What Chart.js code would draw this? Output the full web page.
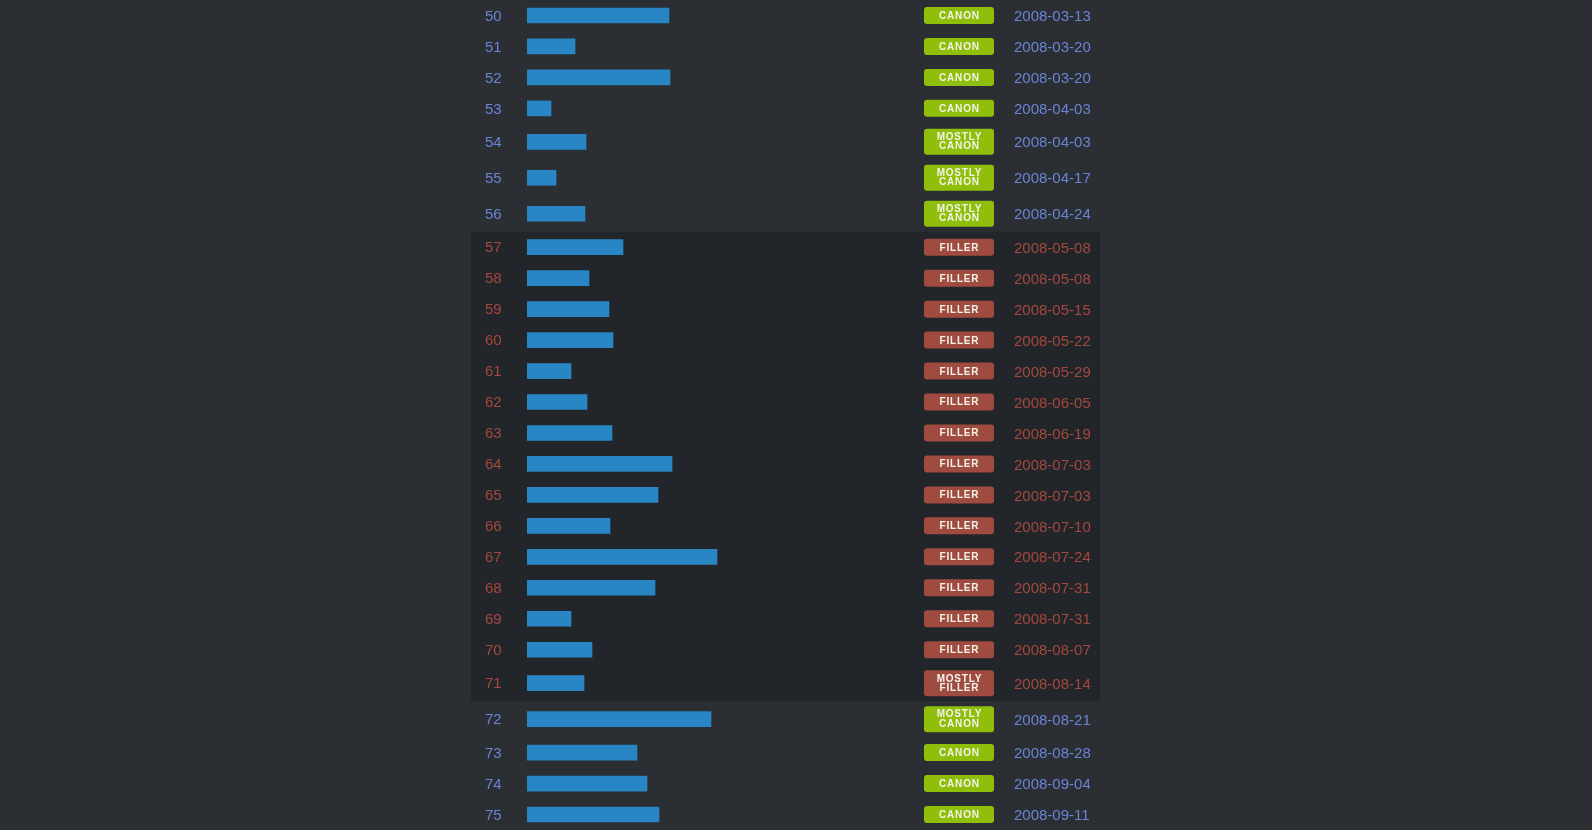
<!DOCTYPE html>
<html>
<head>
<meta charset="utf-8">
<script src="https://cdn.jsdelivr.net/npm/chart.js@4/dist/chart.umd.min.js"></script>
<style>
  html, body { margin: 0; padding: 0; background: #2b2e33; overflow: hidden; }
  #wrap { width: 1592px; height: 830px; position: relative; }
</style>
</head>
<body>
<div id="wrap"><canvas id="c"></canvas></div>
<script>
// ---- data ----
const episodes = [50,51,52,53,54,55,56,57,58,59,60,61,62,63,64,65,66,67,68,69,70,71,72,73,74,75];
const barValues = [142,48,143,24,59,29,58,96,62,82,86,44,60,85,145,131,83,190,128,44,65,57,184,110,120,132];
const statuses = [
  'CANON','CANON','CANON','CANON','MOSTLY CANON','MOSTLY CANON','MOSTLY CANON',
  'FILLER','FILLER','FILLER','FILLER','FILLER','FILLER','FILLER','FILLER','FILLER','FILLER','FILLER','FILLER','FILLER','FILLER',
  'MOSTLY FILLER','MOSTLY CANON','CANON','CANON','CANON'
];
const airDates = [
  '2008-03-13','2008-03-20','2008-03-20','2008-04-03','2008-04-03','2008-04-17','2008-04-24',
  '2008-05-08','2008-05-08','2008-05-15','2008-05-22','2008-05-29','2008-06-05','2008-06-19',
  '2008-07-03','2008-07-03','2008-07-10','2008-07-24','2008-07-31','2008-07-31','2008-08-07',
  '2008-08-14','2008-08-21','2008-08-28','2008-09-04','2008-09-11'
];
const xMax = 573;

// ---- style / layout ----
const ROW_SINGLE = 31, ROW_DOUBLE = 36;
const COLORS = {
  bar: '#2986c4', canonText: '#6a85d6', fillerText: '#a5493e',
  canonBadge: '#8fbe0b', fillerBadge: '#a04b40', badgeText: '#f3f3ea',
  fillerBg: '#222529'
};
const isFiller = i => statuses[i].indexOf('FILLER') >= 0;
const isDouble = i => statuses[i].indexOf('MOSTLY') === 0;

// row bands derived from the badge type
const rowTop = [], rowBottom = [], rowCenter = [];
let acc = 0;
statuses.forEach((s, i) => {
  const h = isDouble(i) ? ROW_DOUBLE : ROW_SINGLE;
  rowTop.push(acc); rowCenter.push(acc + h / 2); acc += h; rowBottom.push(acc);
});
const yTotal = acc;

const FONT = '"Liberation Sans", Arial, Helvetica, sans-serif';

const decor = {
  id: 'decor',
  beforeDraw(chart) {
    const ctx = chart.ctx, y = chart.scales.y;
    const first = statuses.findIndex((s, i) => isFiller(i));
    let last = first;
    while (last + 1 < statuses.length && isFiller(last + 1)) last++;
    const t = y.getPixelForValue(rowTop[first]), b = y.getPixelForValue(rowBottom[last]);
    ctx.save();
    ctx.fillStyle = COLORS.fillerBg;
    ctx.fillRect(471, t, 1100 - 471, b - t);
    ctx.restore();
  },
  afterDatasetsDraw(chart) {
    const ctx = chart.ctx, y = chart.scales.y;
    ctx.save();
    statuses.forEach((s, i) => {
      const cy = y.getPixelForValue(rowCenter[i]);
      const filler = isFiller(i), dbl = isDouble(i);
      const h = dbl ? 26 : 17, w = 70, bx = 924, by = cy - h / 2;
      ctx.fillStyle = filler ? COLORS.fillerBadge : COLORS.canonBadge;
      ctx.beginPath();
      ctx.roundRect(bx, by, w, h, 3);
      ctx.fill();
      ctx.fillStyle = COLORS.badgeText;
      ctx.font = 'bold 10px ' + FONT;
      ctx.letterSpacing = '0.8px';
      ctx.textAlign = 'center';
      ctx.textBaseline = 'middle';
      const tx = bx + w / 2 + 0.4;
      if (dbl) {
        const parts = s.split(' ');
        ctx.fillText(parts[0], tx, cy - 4.4);
        ctx.fillText(parts[1], tx, cy + 4.9);
      } else {
        ctx.fillText(s, tx, cy + 0.7);
      }
      ctx.letterSpacing = '0px';
      ctx.font = '15px ' + FONT;
      ctx.textAlign = 'left';
      ctx.fillStyle = filler ? COLORS.fillerText : COLORS.canonText;
      ctx.fillText(airDates[i], 1014, cy + 1.5);
    });
    ctx.restore();
  }
};

new Chart(document.getElementById('c'), {
  type: 'bar',
  data: {
    datasets: [{
      data: barValues.map((v, i) => ({ x: v, y: rowCenter[i] })),
      backgroundColor: COLORS.bar,
      borderWidth: 0,
      barThickness: 15
    }]
  },
  options: {
    indexAxis: 'y',
    responsive: true,
    maintainAspectRatio: false,
    animation: false,
    layout: { padding: { left: 485, right: 1592 - 1100, top: 0, bottom: 0 } },
    plugins: { legend: { display: false }, tooltip: { enabled: false } },
    scales: {
      x: { type: 'linear', display: false, min: 0, max: xMax, offset: false },
      y: {
        type: 'linear', reverse: true, min: 0, max: yTotal, offset: false,
        grid: { display: false, drawTicks: false, offset: false },
        border: { display: false },
        afterBuildTicks(scale) { scale.ticks = rowCenter.map(v => ({ value: v })); },
        afterFit(scale) {
          scale.width = 527 - 485;
          scale.paddingTop = 0; scale.paddingBottom = 0;
        },
        ticks: {
          autoSkip: false,
          padding: 0,
          labelOffset: 1,
          crossAlign: 'far',
          font: { family: FONT, size: 15 },
          color: (c) => isFiller(c.index) ? COLORS.fillerText : COLORS.canonText,
          callback: (v, i) => String(episodes[i])
        }
      }
    }
  },
  plugins: [decor]
});
</script>
</body>
</html>
